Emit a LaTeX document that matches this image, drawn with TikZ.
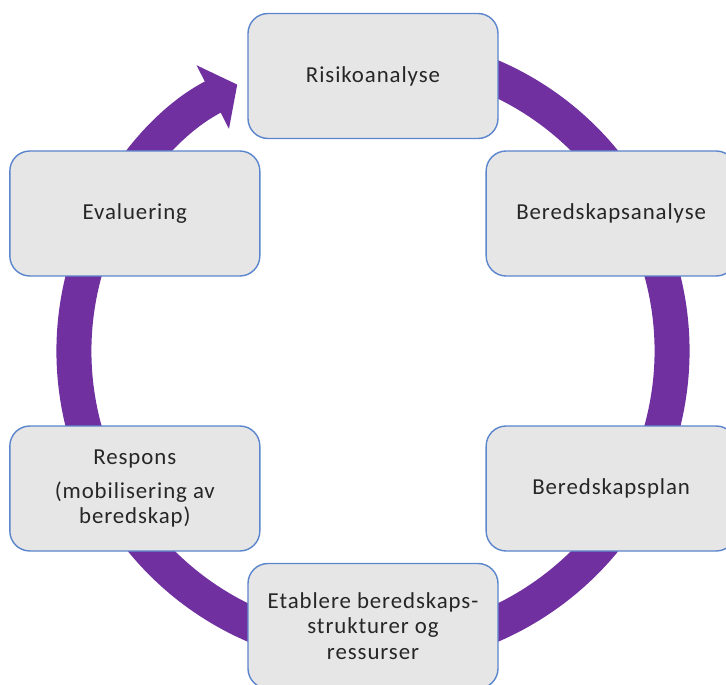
\documentclass[tikz,border=0pt]{standalone}
\usepackage{fontspec}
\setmainfont[LetterSpace=4]{Carlito}
\usetikzlibrary{arrows.meta}
\definecolor{ringpurple}{HTML}{7030A0}
\definecolor{boxblue}{HTML}{5B85CC}
\definecolor{boxgray}{HTML}{E6E6E6}
\definecolor{textgray}{HTML}{262626}
\tikzstyle{stage} = [rectangle, rounded corners=0.4cm, minimum width=5cm, minimum height=2.5cm, align=center, draw=boxblue, line width=0.8pt, fill=boxgray, text=textgray, font=\fontsize{13}{14.5}\selectfont]
\tikzstyle{ring} = [line width=0.7cm, draw=ringpurple, -{Triangle[width=1.4cm,length=0.55cm]}]

\begin{document}
\begin{tikzpicture}
\useasboundingbox (-7.46,-6.66) rectangle (7.06,7.02);
\clip (-7.46,-6.66) rectangle (7.06,7.02);

\coordinate (centre) at (0,0);
\draw [ring] (75:5.98) arc[start angle=75, end angle=-243, radius=5.98];

\node (risiko) [stage] at (90:5.5) {Risikoanalyse};
\node (beredskap) [stage] at (30:5.5) {Beredskapsanalyse};
\node (plan) [stage] at (-30:5.5) {Beredskapsplan};
\node (etablere) [stage] at (-90:5.5) {Etablere beredskaps-\\strukturer og\\ressurser};
\node (respons) [stage] at (210:5.5) {Respons\\[5pt](mobilisering av\\beredskap)};
\node (evaluering) [stage] at (150:5.5) {Evaluering};

\end{tikzpicture}
\end{document}
